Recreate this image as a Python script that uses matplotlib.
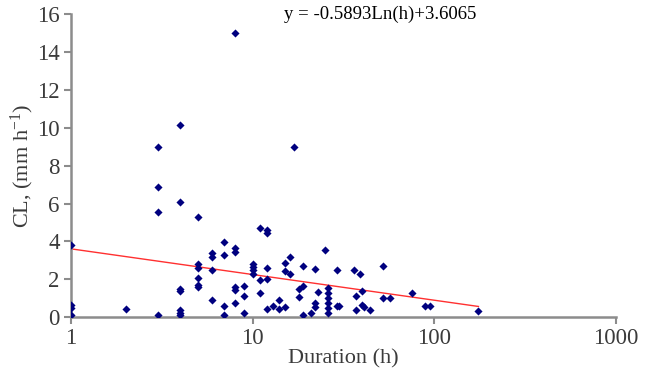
import numpy as np
import matplotlib.pyplot as plt

# duration (h) and CL (mm h-1)
hours = [1, 1, 1, 1,
         2,
         3, 3, 3, 3,
         4, 4, 4, 4, 4, 4, 4,
         5, 5, 5, 5, 5, 5,
         6, 6, 6, 6,
         7, 7, 7, 7,
         8, 8, 8, 8, 8, 8,
         9, 9, 9,
         10, 10, 10, 10,
         11, 11, 11,
         12, 12, 12, 12, 12,
         13, 14, 14,
         15, 15, 15,
         16, 16, 17, 18, 18,
         19, 19, 19, 21,
         22, 22, 22, 23, 25,
         26, 26, 26, 26, 26, 26,
         29, 29, 30, 36, 37, 37, 39, 40, 40, 41, 44,
         52, 52, 57, 75, 89, 95, 175]
cl = [3.8, 0.65, 0.5, 0.1,
      0.42,
      9.0, 6.85, 5.55, 0.12,
      10.15, 6.1, 1.5, 1.4, 0.35, 0.22, 0.1,
      5.3, 2.78, 2.6, 2.05, 1.7, 1.57,
      3.4, 3.2, 2.48, 0.9,
      3.95, 3.3, 0.58, 0.12,
      15.0, 3.65, 3.45, 1.6, 1.45, 0.76,
      1.62, 1.11, 0.2,
      2.8, 2.65, 2.5, 2.3,
      4.72, 1.95, 1.3,
      4.6, 4.45, 2.57, 1.99, 0.42,
      0.58, 0.9, 0.41,
      2.87, 2.45, 0.51,
      3.18, 2.27, 9.0, 1.51, 1.07,
      2.71, 1.64, 0.1, 0.2,
      2.52, 0.76, 0.51, 1.34, 3.54,
      1.53, 1.27, 1.0, 0.74, 0.48, 0.21,
      2.48, 0.58, 0.58, 2.48, 1.11, 0.37, 2.27, 1.39, 0.63, 0.51, 0.37,
      2.69, 0.99, 0.99, 1.3, 0.58, 0.58, 0.33]

# log trendline coefficients (from the equation in the chart)
slope = -0.5893
intercept = 3.6065

plt.rcParams['font.family'] = ['Liberation Serif', 'DejaVu Serif']
plt.rcParams['mathtext.fontset'] = 'custom'
plt.rcParams['mathtext.rm'] = 'Liberation Serif'
plt.rcParams['mathtext.default'] = 'regular'
txt = '#3b3b3b'
axcol = '#8c8c8c'

fig = plt.figure(figsize=(6.45, 3.83), dpi=100)
ax = fig.add_axes([0.110, 0.172, 0.845, 0.791])

ax.scatter(hours, cl, marker='D', s=17, color='#00007f', zorder=3, linewidths=0)

hx = np.linspace(min(hours), max(hours), 200)
ax.plot(hx, slope * np.log(hx) + intercept, color='#ff3030', lw=1, zorder=2)

ax.set_xscale('log')
ax.set_xlim(1, 1000)
ax.set_ylim(0, 16)
ax.set_xticks([1, 10, 100, 1000])
ax.set_xticklabels(['1', '10', '100', '1000'])
ax.minorticks_off()
ax.set_yticks(range(0, 17, 2))

for s in ['top', 'right']:
    ax.spines[s].set_visible(False)
for s in ['left', 'bottom']:
    ax.spines[s].set_color(axcol)
    ax.spines[s].set_linewidth(1.8)
ax.tick_params(colors=axcol, labelcolor=txt, labelsize=16.5, length=5, width=1.5, pad=3)

ax.set_xlabel('Duration (h)', fontsize=16, color=txt, labelpad=0)
ax.set_ylabel('CL, (mm h$^{-1}$)', fontsize=16, color=txt, labelpad=1)

fig.text(0.59, 0.963, 'y = -0.5893Ln(h)+3.6065', fontsize=13.5, color='black',
         ha='center', va='center')

fig.savefig('out.png', dpi=100)
